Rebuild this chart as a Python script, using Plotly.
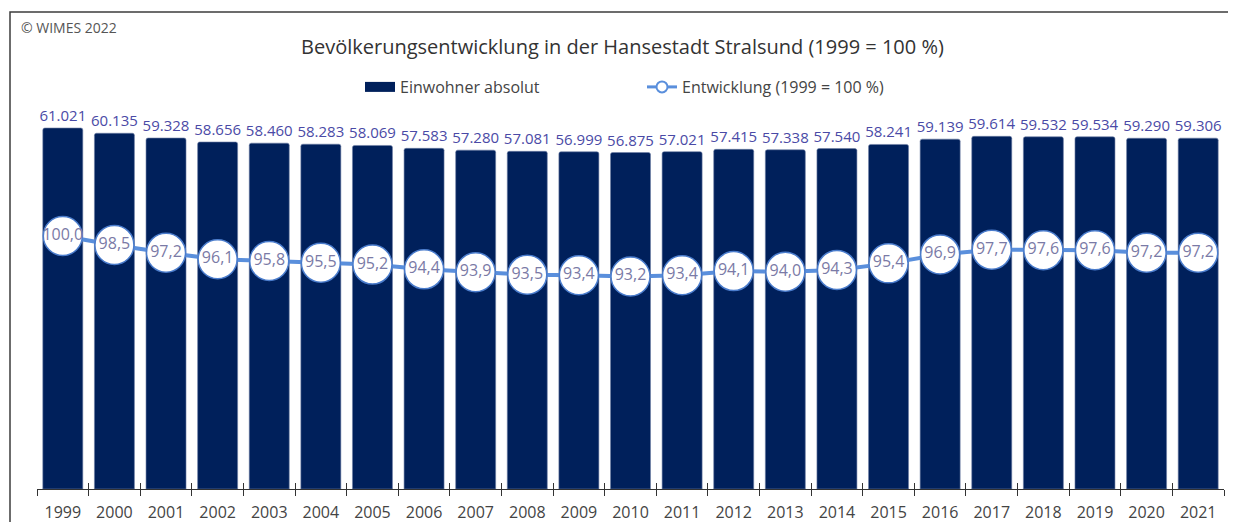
import plotly.graph_objects as go

years = [str(y) for y in range(1999, 2022)]
einwohner = [61021, 60135, 59328, 58656, 58460, 58283, 58069, 57583, 57280, 57081,
             56999, 56875, 57021, 57415, 57338, 57540, 58241, 59139, 59614, 59532,
             59534, 59290, 59306]
entwicklung = [100.0, 98.5, 97.2, 96.1, 95.8, 95.5, 95.2, 94.4, 93.9, 93.5,
               93.4, 93.2, 93.4, 94.1, 94.0, 94.3, 95.4, 96.9, 97.7, 97.6,
               97.6, 97.2, 97.2]

FONT = "Open Sans"
BAR_C = "#00205b"
LINE_C = "#5a8fdc"
bar_text = [f"{v:,}".replace(",", ".") for v in einwohner]
line_text = [f"{v:.1f}".replace(".", ",") for v in entwicklung]

fig = go.Figure()
fig.add_trace(go.Bar(
    x=years, y=einwohner, name="Einwohner absolut", showlegend=False,
    marker=dict(color=BAR_C, line=dict(color="#6f7fa6", width=0.6), cornerradius=2),
    text=bar_text, textposition="outside", cliponaxis=False, constraintext="none",
    textfont=dict(family=FONT, size=15, color="#4a4aa6"),
    xaxis="x", yaxis="y",
))
fig.add_trace(go.Scatter(
    x=years, y=entwicklung, name="Entwicklung (1999 = 100 %)", showlegend=False,
    mode="lines+markers+text",
    line=dict(color=LINE_C, width=4),
    marker=dict(size=39, color="white", line=dict(color="#4a7ccc", width=1.5)),
    text=line_text, textposition="middle center", cliponaxis=False,
    textfont=dict(family=FONT, size=16, color="#7a7aa6"),
    xaxis="x2", yaxis="y2",
))
# legend entries
fig.add_trace(go.Scatter(x=[None], y=[None], mode="lines", name="Einwohner absolut",
                         line=dict(color=BAR_C, width=14), xaxis="x2", yaxis="y2"))
fig.add_trace(go.Scatter(x=[None], y=[None], mode="lines+markers", name="Entwicklung (1999 = 100 %)",
                         line=dict(color=LINE_C, width=3),
                         marker=dict(size=11, color="white", line=dict(color=LINE_C, width=2)),
                         xaxis="x2", yaxis="y2"))

OFF = 8  # page body margin
W, H = 1236 - OFF, 522 - OFF
L, R, T, B = 37 - OFF, 12, 120 - OFF, 33
pw, ph = W - L - R, H - T - B

def px_x(sx):
    return (sx - OFF - L) / pw

def px_y(sy):
    return (H - B - (sy - OFF)) / ph

fig.update_layout(
    width=W, height=H,
    margin=dict(l=L, r=R, t=T, b=B, autoexpand=False),
    paper_bgcolor="white", plot_bgcolor="white",
    font=dict(family=FONT, color="#444"),
    bargap=0.225,
    showlegend=True,
    legend=dict(orientation="h", x=px_x(360), xanchor="left", y=px_y(70), yanchor="top",
                font=dict(size=16, color="#444"), entrywidth=237, entrywidthmode="pixels",
                bgcolor="rgba(0,0,0,0)"),
    xaxis=dict(type="category", range=[-0.5, 22.5], showline=True, linecolor="#333", linewidth=1,
               ticks="outside", ticklen=6, tickcolor="#333", tickson="boundaries",
               ticklabelstandoff=9, automargin=False,
               tickfont=dict(size=16, color="#444"), showgrid=False, zeroline=False),
    xaxis2=dict(type="category", range=[-0.5, 22.5], overlaying="x", side="bottom",
                ticks="inside", ticklen=6, tickcolor="#333", tickson="boundaries",
                automargin=False,
                showticklabels=False, showline=False, showgrid=False, zeroline=False),
    yaxis=dict(range=[0, 369 / 0.005916], visible=False, showgrid=False, zeroline=False,
               automargin=False),
    yaxis2=dict(range=[100 - 253 / 5.95, 100 + 116 / 5.95], overlaying="y", visible=False,
                showgrid=False, zeroline=False, automargin=False),
    annotations=[
        dict(text="Bevölkerungsentwicklung in der Hansestadt Stralsund (1999 = 100 %)",
             xref="paper", yref="paper", x=px_x(622), y=px_y(47), xanchor="center", yanchor="middle",
             showarrow=False, font=dict(family=FONT, size=20, color="#333")),
        dict(text="© WIMES 2022", xref="paper", yref="paper", x=px_x(19), y=px_y(27),
             xanchor="left", yanchor="middle", showarrow=False,
             font=dict(family=FONT, size=14, color="#555")),
    ],
    shapes=[dict(type="rect", xref="paper", yref="paper",
                 x0=px_x(10), x1=px_x(1250), y0=px_y(540), y1=px_y(12),
                 line=dict(color="#3c3c3c", width=1.5), fillcolor="rgba(0,0,0,0)", layer="above")],
)

fig.write_html("out.html")
